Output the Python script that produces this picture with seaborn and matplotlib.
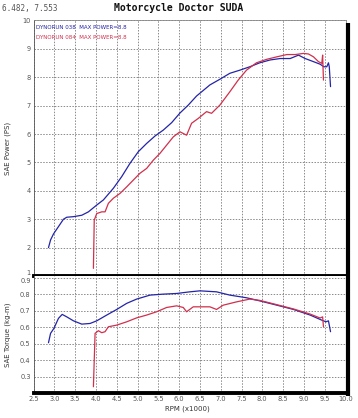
import numpy as np
import pandas as pd
import matplotlib
matplotlib.use("Agg")
import matplotlib.pyplot as plt
import seaborn as sns
from matplotlib.lines import Line2D

# Data -------------------------------------------------------------------------

# run 038 (blue) power, PS
rpm_pw_038 = [2.86, 2.91, 2.98, 3.10, 3.22, 3.30, 3.46, 3.66, 3.82, 4.02, 4.18, 4.42, 4.62, 4.82,
              5.02, 5.22, 5.42, 5.62, 5.82, 6.02, 6.22, 6.42, 6.74, 6.98, 7.22, 7.46, 7.70, 7.94,
              8.19, 8.43, 8.67, 8.87, 9.03, 9.23, 9.39, 9.48, 9.55, 9.59, 9.61, 9.64]
pw_038 = [2.00, 2.27, 2.48, 2.74, 3.00, 3.07, 3.09, 3.14, 3.26, 3.50, 3.68, 4.09, 4.50, 4.97,
          5.38, 5.67, 5.93, 6.14, 6.40, 6.74, 7.02, 7.34, 7.73, 7.93, 8.14, 8.25, 8.37, 8.51,
          8.61, 8.66, 8.66, 8.78, 8.66, 8.55, 8.46, 8.37, 8.37, 8.51, 8.37, 7.67]

# run 084 (red) power, PS
rpm_pw_084 = [3.94, 3.96, 4.02, 4.14, 4.22, 4.30, 4.42, 4.58, 4.74, 4.90, 5.06, 5.22, 5.38, 5.54,
              5.70, 5.86, 6.02, 6.18, 6.30, 6.46, 6.66, 6.78, 6.98, 7.22, 7.42, 7.62, 7.86, 8.10,
              8.35, 8.59, 8.79, 8.99, 9.11, 9.23, 9.35, 9.43, 9.45, 9.47]
pw_084 = [1.27, 2.97, 3.20, 3.26, 3.26, 3.56, 3.74, 3.91, 4.14, 4.38, 4.62, 4.79, 5.08, 5.32,
          5.61, 5.90, 6.08, 5.96, 6.38, 6.55, 6.79, 6.73, 7.02, 7.49, 7.90, 8.25, 8.51, 8.63,
          8.72, 8.80, 8.80, 8.84, 8.82, 8.72, 8.55, 8.49, 8.78, 7.90]

# run 038 (blue) torque, kg-m
rpm_tq_038 = [2.86, 2.91, 2.99, 3.10, 3.19, 3.30, 3.46, 3.66, 3.86, 4.02, 4.26, 4.50, 4.74, 4.98,
              5.30, 5.62, 5.94, 6.26, 6.50, 6.90, 7.22, 7.62, 7.94, 8.35, 8.75, 9.15, 9.43, 9.53,
              9.59, 9.64]
tq_038 = [0.505, 0.562, 0.592, 0.653, 0.677, 0.662, 0.638, 0.618, 0.622, 0.638, 0.673, 0.707,
          0.744, 0.770, 0.794, 0.800, 0.804, 0.814, 0.820, 0.814, 0.794, 0.778, 0.759, 0.733,
          0.707, 0.673, 0.642, 0.632, 0.638, 0.572]

# run 084 (red) torque, kg-m
rpm_tq_084 = [3.94, 3.98, 4.06, 4.14, 4.22, 4.30, 4.50, 4.74, 4.98, 5.22, 5.46, 5.70, 5.94, 6.10,
              6.18, 6.34, 6.74, 6.90, 7.06, 7.38, 7.70, 7.94, 8.35, 8.75, 9.15, 9.39, 9.45, 9.47]
tq_084 = [0.238, 0.562, 0.578, 0.566, 0.572, 0.602, 0.612, 0.632, 0.656, 0.673, 0.693, 0.719,
          0.729, 0.719, 0.693, 0.723, 0.723, 0.707, 0.733, 0.753, 0.770, 0.762, 0.736, 0.710,
          0.679, 0.655, 0.662, 0.602]

legend_labels = ["DYNORUN 038  MAX POWER=8.8", "DYNORUN 084  MAX POWER=8.8"]
x_ticks = [2.5 + 0.5 * i for i in range(16)]
power_ticks = list(range(1, 11))
torque_ticks = [0.3, 0.4, 0.5, 0.6, 0.7, 0.8, 0.9]

blue = "#2424a8"
red = "#d0304c"
grid_gray = "#8a8a8a"
text_gray = "#555555"

# Figure ---------------------------------------------------------------------
sns.set_style("white")
plt.rcParams['font.family'] = ['DejaVu Sans']

fig = plt.figure(figsize=(3.58, 4.18), dpi=100)
ax1 = fig.add_axes([0.0936, 0.3397, 0.8715, 0.6113])
ax2 = fig.add_axes([0.0936, 0.0598, 0.8715, 0.2799])

sns.lineplot(x=rpm_pw_038, y=pw_038, ax=ax1, color=blue, lw=0.9, sort=False, estimator=None)
sns.lineplot(x=rpm_pw_084, y=pw_084, ax=ax1, color=red, lw=0.9, sort=False, estimator=None)
sns.lineplot(x=rpm_tq_038, y=tq_038, ax=ax2, color=blue, lw=0.9, sort=False, estimator=None)
sns.lineplot(x=rpm_tq_084, y=tq_084, ax=ax2, color=red, lw=0.9, sort=False, estimator=None)

for ax in (ax1, ax2):
    ax.set_xlim(2.5, 10.0)
    ax.set_xticks(x_ticks)
    ax.grid(True, color=grid_gray, linestyle=(0, (1.5, 1.5)), linewidth=0.7)
    ax.tick_params(axis='both', which='major', direction='in', length=2, width=0.5,
                   labelsize=4.8, labelcolor=text_gray, color='#444444', pad=2)
    ax.tick_params(axis='both', which='minor', direction='in', length=1.5, width=0.5,
                   color='#444444')
    ax.spines['left'].set_color('#555555')
    ax.spines['left'].set_linewidth(0.6)
    ax.spines['top'].set_color('#888888')
    ax.spines['top'].set_linewidth(0.6)
    ax.spines['right'].set_color('#888888')
    ax.spines['right'].set_linewidth(0.6)
    ax.set_xlabel("")
    ax.set_ylabel("")

# top panel
ax1.set_ylim(1, 10)
ax1.set_yticks(power_ticks)
ax1.set_yticklabels([str(t) for t in power_ticks])
ax1.set_yticks(np.arange(1, 10.01, 0.2), minor=True)
ax1.tick_params(axis='x', labelbottom=False, length=0)
ax1.spines['bottom'].set_color('black')
ax1.spines['bottom'].set_linewidth(2.8)
ax1.get_yticklabels()[0].set_va('bottom')

# bottom panel
ax2.set_ylim(0.2, 0.91)
ax2.set_yticks(torque_ticks)
ax2.set_yticklabels(["%.1f" % t for t in torque_ticks])
ax2.set_yticks(np.arange(0.2, 0.91, 0.02), minor=True)
ax2.set_xticklabels(["%.1f" % t for t in x_ticks])
ax2.set_xticks(np.arange(2.5, 10.01, 0.1), minor=True)
ax2.spines['top'].set_visible(False)
ax2.spines['bottom'].set_color('black')
ax2.spines['bottom'].set_linewidth(2.8)
ax2.get_yticklabels()[-1].set_va('top')

# legend text inside top panel
ax1.text(0.008, 0.972, legend_labels[0], transform=ax1.transAxes, color=blue,
         fontsize=4.0, va='center', ha='left')
ax1.text(0.008, 0.932, legend_labels[1], transform=ax1.transAxes, color=red,
         fontsize=4.0, va='center', ha='left')

# black drop shadow on the right edge
fig.add_artist(Line2D([0.9715, 0.9715], [0.052, 0.944], transform=fig.transFigure,
                      color='black', lw=3.0, solid_capstyle='butt'))

# axis labels and titles
fig.text(8 / 358, 1 - 148 / 418, "SAE Power (PS)", rotation=90, ha='center', va='center',
         fontsize=5, color='#333333')
fig.text(8 / 358, 1 - 335 / 418, "SAE Torque (kg-m)", rotation=90, ha='center', va='center',
         fontsize=5, color='#333333')
fig.text(187 / 358, 1 - 409 / 418, "RPM (x1000)", ha='center', va='center',
         fontsize=5, color='#333333')
fig.text(0.5, 0.993, "Motorcycle Doctor SUDA", ha='center', va='top', fontsize=7,
         fontweight='bold', family='DejaVu Sans Mono', color='#111111')
fig.text(0.006, 0.99, "6.482, 7.553", ha='left', va='top', fontsize=5.5,
         family='DejaVu Sans Mono', color='#555555')

plt.savefig('out.png', dpi=100, facecolor='white')
